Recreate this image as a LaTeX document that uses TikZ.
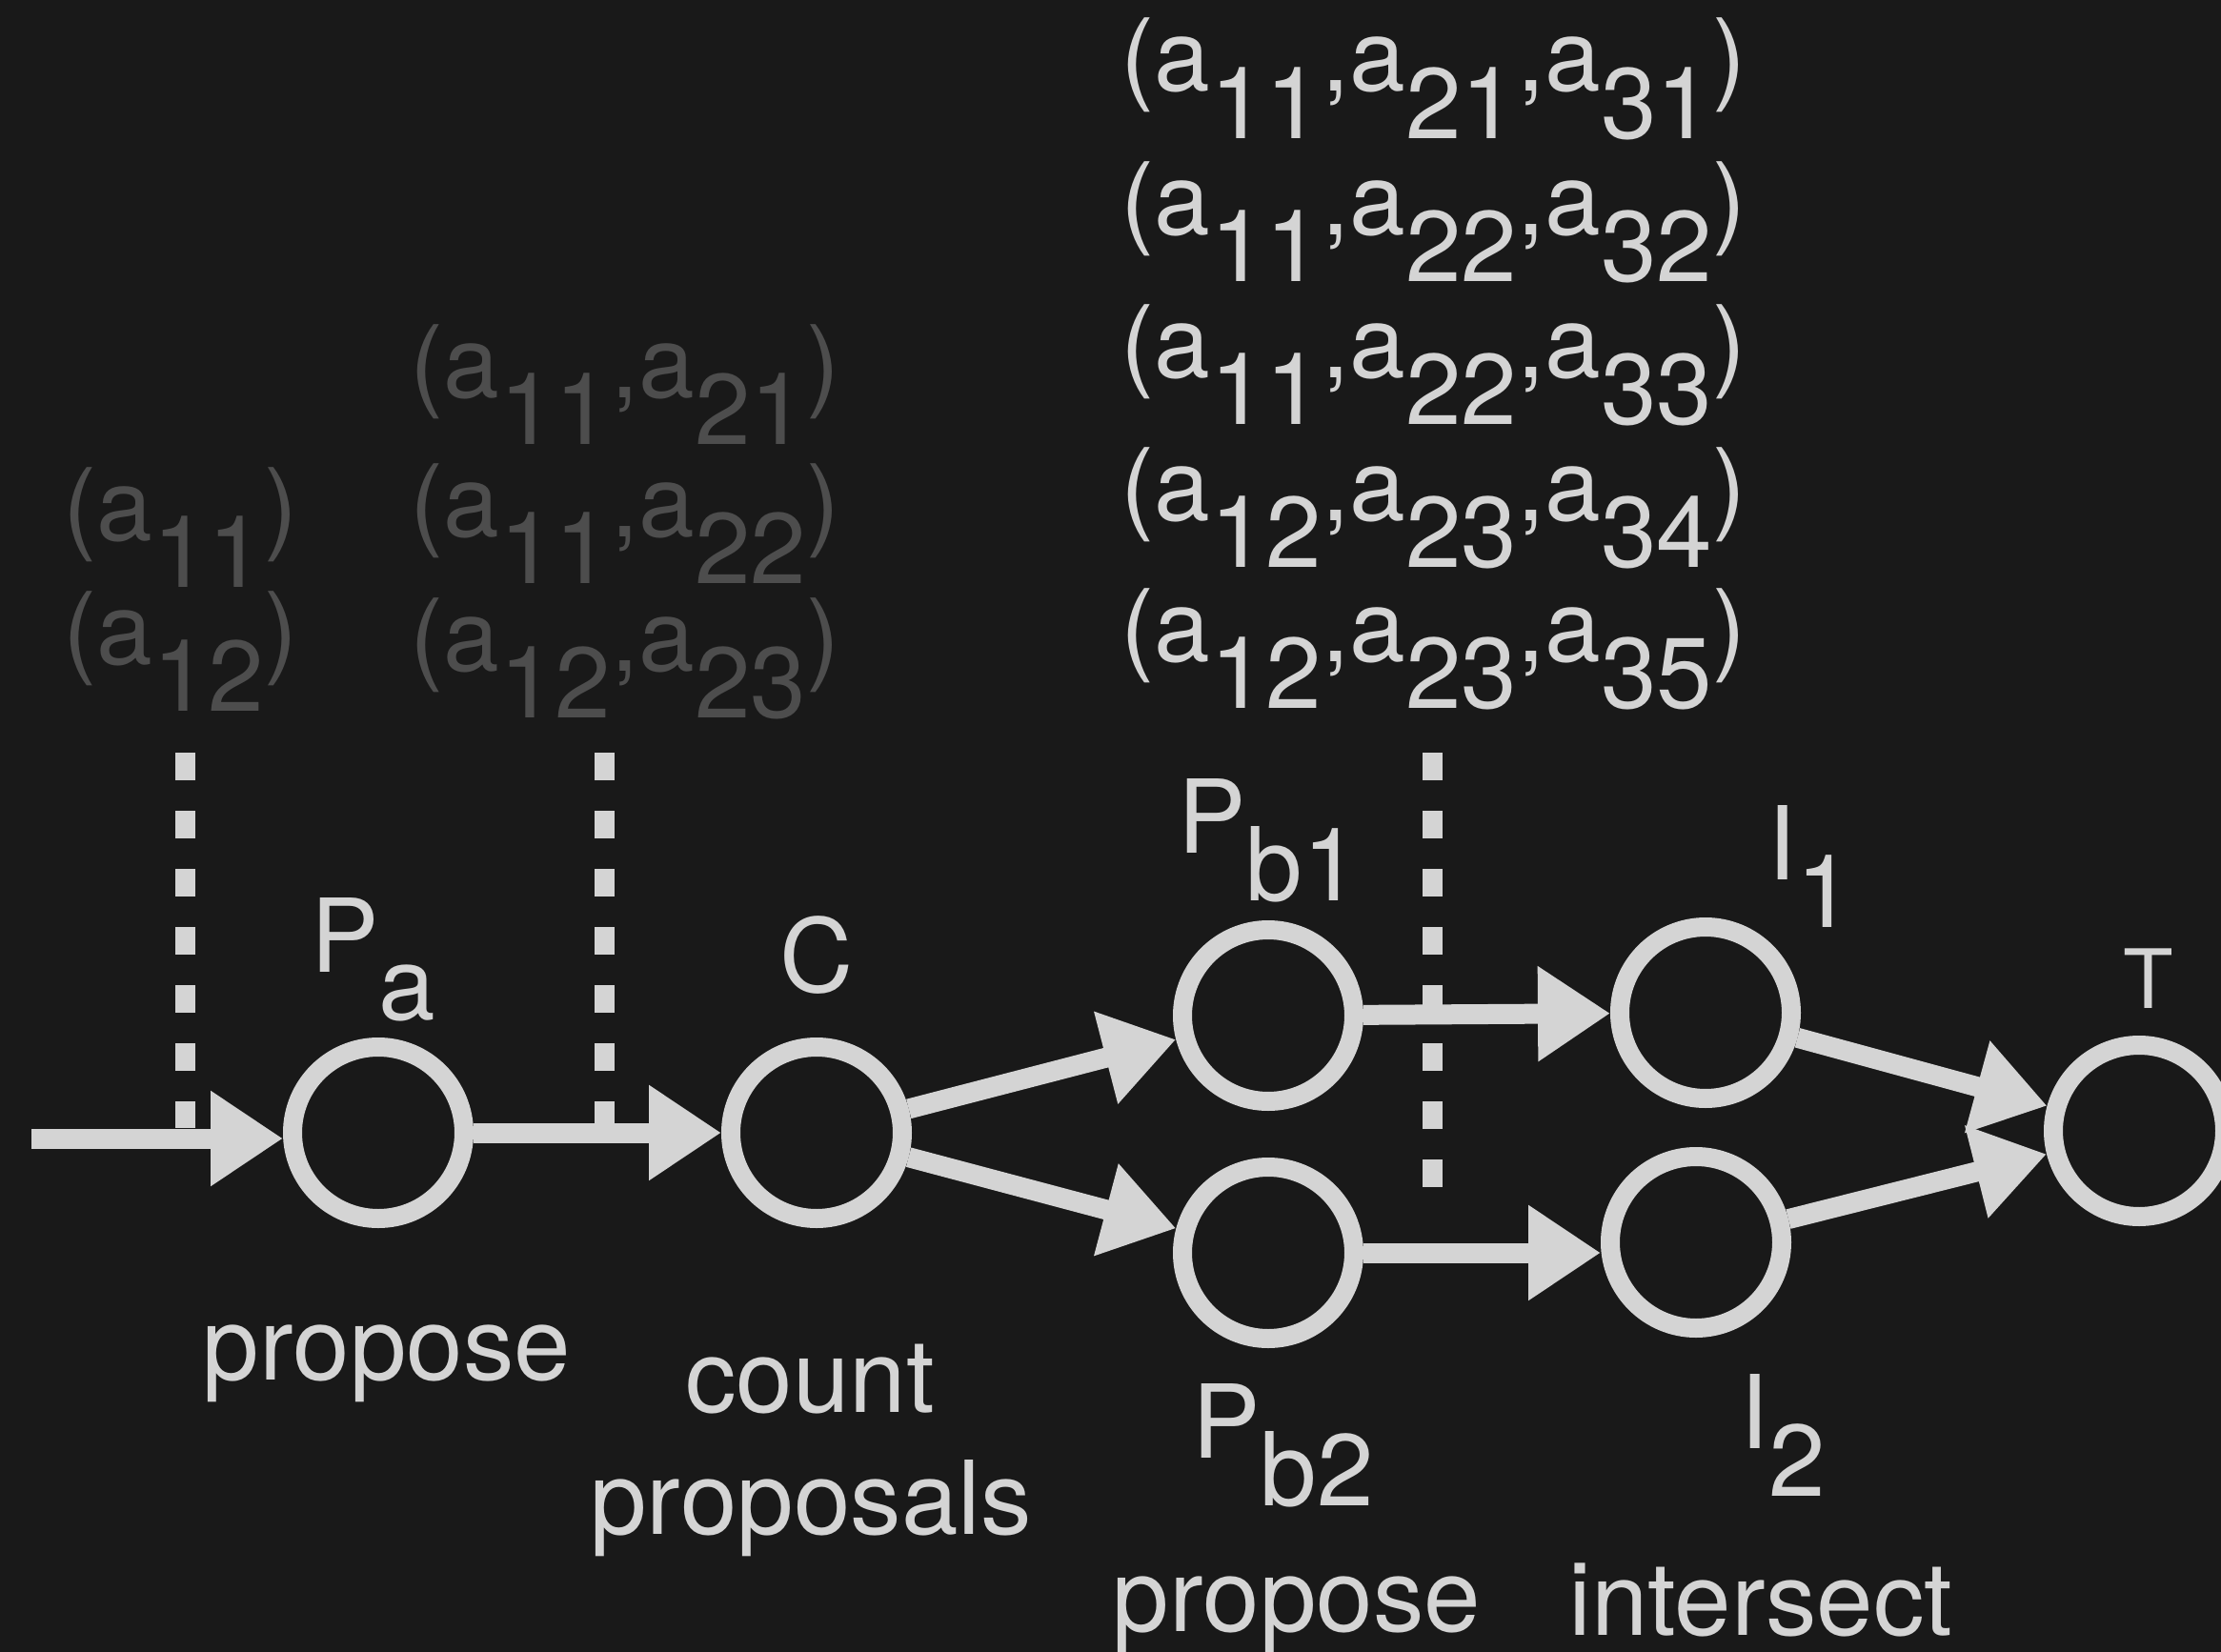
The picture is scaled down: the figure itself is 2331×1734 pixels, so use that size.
\documentclass[tikz,border=0pt]{standalone}
\usepackage{fontspec}
\setmainfont{TeX Gyre Heros}
\usetikzlibrary{arrows.meta}
\definecolor{bg}{HTML}{191919}
\definecolor{fg}{HTML}{D4D4D4}
\definecolor{dim}{HTML}{4D4D4D}
\newcommand\dn[1]{\raisebox{-0.47em}{#1}}
\tikzset{
  state/.style={circle, draw=fg, line width=10pt, minimum size=90pt, inner sep=0pt, outer sep=5pt},
  flow/.style={draw=fg, line width=10.5pt, -{Triangle[length=38pt,width=47.5pt]}},
  cutline/.style={draw=fg, line width=10.5pt, dash pattern=on 14.5pt off 16pt},
  tup/.style={text=fg, font=\fontsize{52.7pt}{60pt}\selectfont, inner sep=0pt, anchor=base west},
  tupdim/.style={tup, text=dim},
  lbl/.style={text=fg, font=\fontsize{53.5pt}{62pt}\selectfont, inner sep=0pt},
  lblsmall/.style={text=fg, font=\fontsize{43pt}{50pt}\selectfont, inner sep=0pt},
}
\begin{document}
\begin{tikzpicture}[x=0.5pt, y=-0.5pt]
\fill[bg] (0,0) rectangle (2331,1734);
\useasboundingbox (0,0) rectangle (2331,1734);
\clip (0,0) rectangle (2331,1734);

% cut lines
\coordinate (d1a) at (194,790);  \coordinate (d1b) at (194,1184);
\coordinate (d2a) at (634,790);  \coordinate (d2b) at (634,1181);
\coordinate (d3a) at (1503,790); \coordinate (d3b) at (1503,1247);
\draw[cutline] (d1a) -- (d1b);
\draw[cutline] (d2a) -- (d2b);
\draw[cutline] (d3a) -- (d3b);

% states
\node[state] (Pa)  at (397,1189) {};
\node[state] (C)   at (857,1189) {};
\node[state] (Pb1) at (1331,1066) {};
\node[state] (Pb2) at (1331,1315) {};
\node[state] (I1)  at (1790,1063) {};
\node[state] (I2)  at (1780,1304) {};
\node[state] (T)   at (2245,1187) {};

% connectors
\coordinate (in0) at (33,1195);
\draw[flow] (in0) -- (in0 -| Pa.west);
\draw[flow] (Pa) -- (C);
\draw[flow] (C) -- (Pb1);
\draw[flow] (C) -- (Pb2);
\draw[flow] (Pb1) -- (I1);
\draw[flow] (Pb2.east) -- (Pb2.east -| I2.west);
\draw[flow] (I1) -- (T);
\draw[flow] (I2) -- (T);

% state names
\node[lbl, anchor=base west] (nPa)  at (326,1020)  {P\dn{a}};
\node[lbl, anchor=base]      (nC)   at (857,1041)  {C};
\node[lbl, anchor=base west] (nPb1) at (1236,895)  {P\dn{b1}};
\node[lbl, anchor=base west] (nI1)  at (1855,923)  {I\dn{1}};
\node[lblsmall, anchor=base] (nT)   at (2255,1058) {T};
\node[lbl, anchor=base west] (nPb2) at (1251,1530) {P\dn{b2}};
\node[lbl, anchor=base west] (nI2)  at (1826,1520) {I\dn{2}};

% descriptions
\node[lbl, anchor=base] (dPa)  at (406,1448)  {propose};
\node[lbl, anchor=base] (dC1)  at (850,1482)  {count};
\node[lbl, anchor=base] (dC2)  at (851,1610)  {proposals};
\node[lbl, anchor=base] (dPb2) at (1361,1712) {propose};
\node[lbl, anchor=base] (dI2)  at (1848,1716) {intersect};

% tuples (dim)
\node[tupdim] (g11) at (66,567)  {(a\dn{11})};
\node[tupdim] (g12) at (66,697)  {(a\dn{12})};
\node[tupdim] (g21) at (430,417) {(a\dn{11},a\dn{21})};
\node[tupdim] (g22) at (430,563) {(a\dn{11},a\dn{22})};
\node[tupdim] (g23) at (430,704) {(a\dn{12},a\dn{23})};

% tuples (bright)
\node[tup] (t1) at (1176,96)  {(a\dn{11},a\dn{21},a\dn{31})};
\node[tup] (t2) at (1176,246) {(a\dn{11},a\dn{22},a\dn{32})};
\node[tup] (t3) at (1176,396) {(a\dn{11},a\dn{22},a\dn{33})};
\node[tup] (t4) at (1176,546) {(a\dn{12},a\dn{23},a\dn{34})};
\node[tup] (t5) at (1176,694) {(a\dn{12},a\dn{23},a\dn{35})};
\end{tikzpicture}
\end{document}
